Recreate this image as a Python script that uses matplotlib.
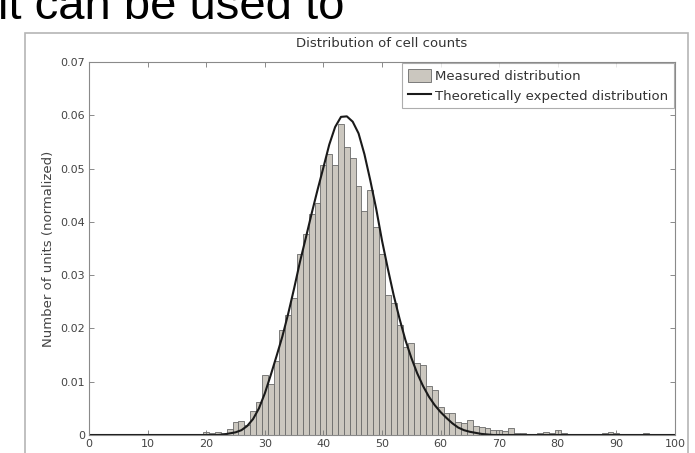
"""Histogram of cell counts with the expected distribution, MATLAB style."""

import matplotlib
matplotlib.use('Agg')
import matplotlib.pyplot as plt
from matplotlib.patches import Rectangle

plt.rcParams['font.family'] = ['DejaVu Sans']

# measured histogram (bin centres, normalized counts)
bin_centres = list(range(15, 97))
measured = [
    0.0002, 0.0001, 0.0002, 0.0001, 0.0001,                    # 15-19
    0.0006, 0.0003, 0.0005, 0.0004, 0.0012,                    # 20-24
    0.0025, 0.0027, 0.0019, 0.0045, 0.0062,                    # 25-29
    0.0112, 0.0096, 0.0138, 0.0197, 0.0226,                    # 30-34
    0.0257, 0.0340, 0.0378, 0.0415, 0.0436,                    # 35-39
    0.0506, 0.0528, 0.0506, 0.0584, 0.0540,                    # 40-44
    0.0520, 0.0468, 0.0421, 0.0459, 0.0390,                    # 45-49
    0.0340, 0.0262, 0.0247, 0.0206, 0.0165,                    # 50-54
    0.0172, 0.0135, 0.0131, 0.0092, 0.0085,                    # 55-59
    0.0052, 0.0041, 0.0041, 0.0024, 0.0022,                    # 60-64
    0.0028, 0.0017, 0.0015, 0.0014, 0.0010,                    # 65-69
    0.0009, 0.0008, 0.0013, 0.0004, 0.0003,                    # 70-74
    0.0002, 0.0001, 0.0004, 0.0006, 0.0003,                    # 75-79
    0.0010, 0.0004, 0.0002, 0.0001, 0.0002,                    # 80-84
    0.0001, 0.0000, 0.0002, 0.0003, 0.0006,                    # 85-89
    0.0004, 0.0001, 0.0000, 0.0001, 0.0000,                    # 90-94
    0.0003, 0.0001,                                            # 95-96
]

# theoretical curve
curve_x = [0, 22, 23, 24, 25, 26, 27, 28, 29, 30, 31, 32, 33, 34, 35, 36, 37,
           38, 39, 40, 41, 42, 43, 44, 45, 46, 47, 48, 49, 50, 51, 52, 53, 54,
           55, 56, 57, 58, 59, 60, 61, 62, 63, 64, 65, 66, 67, 68, 69, 100]
curve_y = [0.0, 0.0, 0.0001, 0.0003, 0.0005, 0.0009, 0.0017, 0.0030, 0.0050,
           0.0078, 0.0112, 0.0148, 0.0185, 0.0228, 0.0275, 0.0325, 0.0370,
           0.0416, 0.0460, 0.0502, 0.0545, 0.0578, 0.0597, 0.0598, 0.0588,
           0.0566, 0.0527, 0.0478, 0.0425, 0.0365, 0.0312, 0.0262, 0.0218,
           0.0178, 0.0145, 0.0116, 0.0092, 0.0072, 0.0056, 0.0043, 0.0032,
           0.0022, 0.0014, 0.0009, 0.0006, 0.0004, 0.0002, 0.0001, 0.0, 0.0]

x_ticks = [0, 10, 20, 30, 40, 50, 60, 70, 80, 90, 100]
y_ticks = [0, 0.01, 0.02, 0.03, 0.04, 0.05, 0.06, 0.07]
y_tick_labels = ['0', '0.01', '0.02', '0.03', '0.04', '0.05', '0.06', '0.07']

fig = plt.figure(figsize=(6.95, 4.53), dpi=100)
W, H = 695, 453

# slide heading, cut off at the top of the picture
fig.text(-2 / W, 1 - 19 / H, 'it can be used to', fontsize=34,
         family=['Liberation Sans', 'DejaVu Sans'],
         color='black', ha='left', va='baseline')

# grey frame of the pasted figure
fig.patches.append(Rectangle((25 / W, -0.05), (688 - 25) / W, 1.05 - 33 / H,
                             transform=fig.transFigure, fill=False,
                             edgecolor='#b5b5b5', linewidth=1.2))

ax = fig.add_axes([89 / W, 1 - 435 / H, (675 - 89) / W, (435 - 62) / H])

bars = ax.bar(bin_centres, measured, width=1.0, color='#cbc7bf',
              edgecolor='#6a6a6a', linewidth=0.6, label='Measured distribution')
line, = ax.plot(curve_x, curve_y, color='#1a1a1a', linewidth=1.5,
                label='Theoretically expected distribution')

ax.set_xlim(0, 100)
ax.set_ylim(0, 0.07)
ax.set_xticks(x_ticks)
ax.set_yticks(y_ticks)
ax.set_yticklabels(y_tick_labels)
ax.tick_params(direction='in', top=True, right=True, length=3.5, width=0.6,
               color='#777777', labelsize=8, labelcolor='#444444', pad=3)
for spine in ax.spines.values():
    spine.set_color('#8a8a8a')
    spine.set_linewidth(0.8)

ax.set_title('Distribution of cell counts', fontsize=9.5, color='#333333', pad=11)
ax.set_ylabel('Number of units (normalized)', fontsize=9.5, color='#444444',
              labelpad=4)

leg = ax.legend([bars, line],
                ['Measured distribution', 'Theoretically expected distribution'],
                loc='upper right', fontsize=9.5, frameon=True, fancybox=False,
                borderaxespad=0.1, handlelength=1.8, handleheight=1.2,
                handletextpad=0.3, borderpad=0.4, labelspacing=0.45)
leg.get_frame().set_edgecolor('#999999')
leg.get_frame().set_linewidth(0.8)
for text in leg.get_texts():
    text.set_color('#333333')

plt.savefig('out.png', dpi=100)
